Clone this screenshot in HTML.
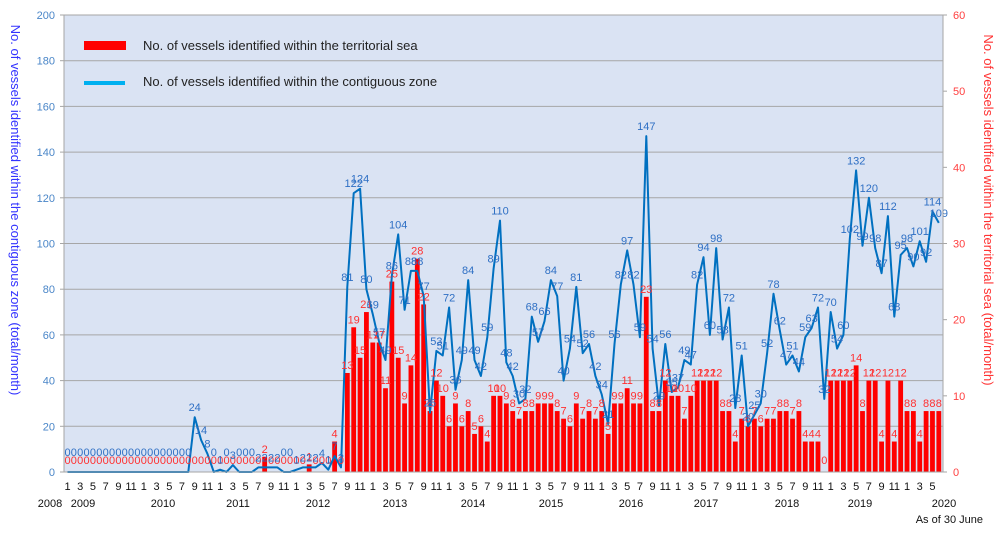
<!DOCTYPE html>
<html><head><meta charset="utf-8"><style>
body{margin:0;background:#fff;width:1000px;height:533px;overflow:hidden;font-family:"Liberation Sans",sans-serif}
</style></head><body>
<svg id="s" width="1000" height="533" xmlns="http://www.w3.org/2000/svg" font-family="Liberation Sans, sans-serif">
<rect x="64" y="15" width="879" height="457" fill="#dae3f3"/>
<g id="grid"></g>
<g id="bars"></g>
<polyline id="line" fill="none" stroke="#0070c0" stroke-width="2" stroke-linejoin="round"/>
<g id="labs"></g>
<rect x="64" y="15" width="879" height="457" fill="none" stroke="#a6a6a6" stroke-width="1"/>
<rect x="84" y="41" width="42" height="9" fill="#ff0000"/>
<text x="143" y="50" font-size="13" fill="#222">No. of vessels identified within the territorial sea</text>
<rect x="84" y="81" width="41" height="4" fill="#00b0f0"/>
<text x="143" y="86" font-size="13" fill="#222">No. of vessels identified within the contiguous zone</text>
<text transform="translate(11,210) rotate(90)" text-anchor="middle" font-size="13" fill="#3333ff">No. of vessels identified within the contiguous zone (total/month)</text>
<text transform="translate(984,210) rotate(90)" text-anchor="middle" font-size="13" fill="#ff3333">No. of vessels identified within the territorial sea (total/month)</text>
<g font-size="11" fill="#111" text-anchor="middle">
<text x="50" y="507">2008</text><text x="83" y="507">2009</text><text x="163" y="507">2010</text>
<text x="238" y="507">2011</text><text x="318" y="507">2012</text><text x="395" y="507">2013</text>
<text x="473" y="507">2014</text><text x="551" y="507">2015</text><text x="631" y="507">2016</text>
<text x="706" y="507">2017</text><text x="787" y="507">2018</text><text x="860" y="507">2019</text>
<text x="944" y="507">2020</text>
</g>
<text x="983" y="523" font-size="11" fill="#111" text-anchor="end">As of 30 June</text>
<g id="xl" font-size="11" fill="#111" text-anchor="middle"></g>
</svg>
<script>
var B=[0,0,0,0,0,0,0,0,0,0,0,0, 0,0,0,0,0,0,0,0,24,14,8,0, 1,0,3,0,0,0,2,2,2,2,0,0,
1,2,2,2,4,1,7,2,81,122,124,80, 69,57,49,86,104,71,88,88,77,26,53,51,
72,36,49,84,49,42,59,89,110,48,42,30, 32,68,57,66,84,77,40,54,81,52,56,42,
34,21,56,82,97,82,59,147,54,29,56,35, 37,49,47,82,94,60,98,58,72,28,51,20,
25,30,52,78,62,47,51,44,59,63,72,32, 70,54,60,102,132,99,120,98,87,112,68,95,
98,90,101,92,114,109];
var R=[0,0,0,0,0,0,0,0,0,0,0,0, 0,0,0,0,0,0,0,0,0,0,0,0, 0,0,0,0,0,0,0,2,0,0,0,0,
0,0,1,0,0,0,4,0,13,19,15,21, 17,17,11,25,15,9,14,28,22,8,12,10,
6,9,6,8,5,6,4,10,10,9,8,7, 8,8,9,9,9,8,7,6,9,7,8,7,
8,5,9,9,11,9,9,23,8,8,12,10, 10,7,10,12,12,12,12,8,8,4,7,6,
7,6,7,7,8,8,7,8,4,4,4,0, 12,12,12,12,14,8,12,12,4,12,4,12,
8,8,4,8,8,8];
var NS="http://www.w3.org/2000/svg";
function el(p,t,a,txt){var e=document.createElementNS(NS,t);for(var k in a)e.setAttribute(k,a[k]);if(txt!==undefined)e.textContent=txt;document.getElementById(p).appendChild(e);return e;}
var X=function(i){return 67.5+6.36*i;};
for(var v=0;v<=200;v+=20){var y=472-v*2.285;
 if(v>0&&v<200)el("grid","line",{x1:64,x2:943,y1:y,y2:y,stroke:"#a6a6a6","stroke-width":1});
 el("grid","text",{x:55,y:y+4,"font-size":11,fill:"#4a86c8","text-anchor":"end"},String(v));
 el("grid","line",{x1:60,x2:64,y1:y,y2:y,stroke:"#a6a6a6"});
}
for(var r=0;r<=60;r+=10){var y=472-r*457/60;
 el("grid","text",{x:953,y:y+4,"font-size":11,fill:"#ff4040"},String(r));
 el("grid","line",{x1:943,x2:947,y1:y,y2:y,stroke:"#a6a6a6"});
}
var pts=[];
for(var i=0;i<B.length;i++){var x=X(i);
 var h=R[i]*457/60; if(h>0)el("bars","rect",{x:x-2.4,y:472-h,width:4.8,height:h,fill:"#ff0000"});
 var y=472-B[i]*2.285; pts.push(x.toFixed(1)+","+y.toFixed(1));
 el("labs","text",{x:x,y:472-h-4-(R[i]==0?4:0),"font-size":11,fill:"#ff3030","text-anchor":"middle"},String(R[i]));
 el("labs","text",{x:x,y:y-6-(B[i]==0?10:0),"font-size":11,fill:"#2e6fc4","text-anchor":"middle"},String(B[i]));
 var m=i%12; if(m%2==0){el("xl","text",{x:x,y:490},String(m+1));}
}
document.getElementById("line").setAttribute("points",pts.join(" "));
</script>
</body></html>
